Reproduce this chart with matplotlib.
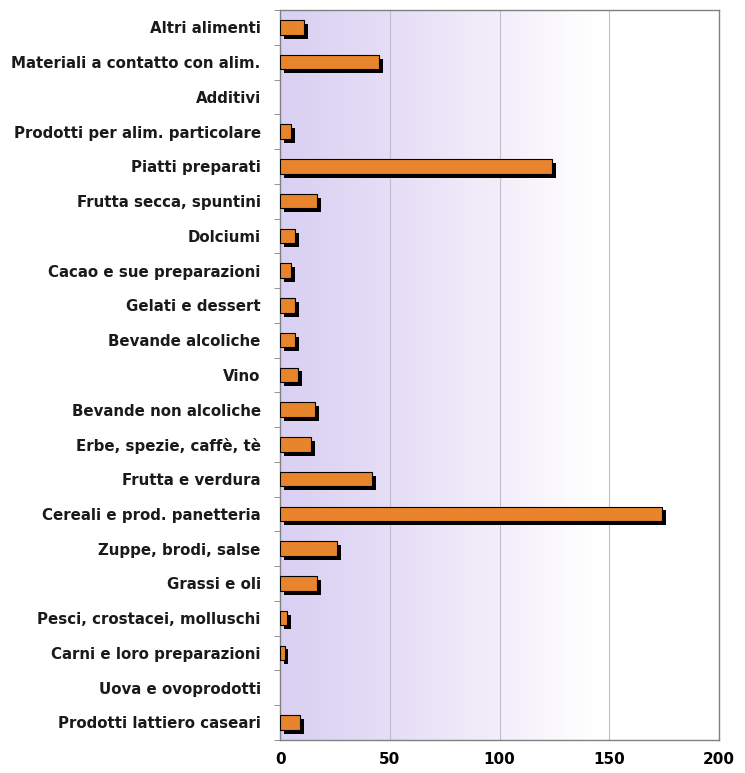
import numpy as np
import matplotlib.pyplot as plt
import matplotlib.patheffects as pe
from matplotlib.colors import LinearSegmentedColormap

# categorie dall'alto verso il basso
categorie = [
    "Altri alimenti",
    "Materiali a contatto con alim.",
    "Additivi",
    "Prodotti per alim. particolare",
    "Piatti preparati",
    "Frutta secca, spuntini",
    "Dolciumi",
    "Cacao e sue preparazioni",
    "Gelati e dessert",
    "Bevande alcoliche",
    "Vino",
    "Bevande non alcoliche",
    "Erbe, spezie, caffè, tè",
    "Frutta e verdura",
    "Cereali e prod. panetteria",
    "Zuppe, brodi, salse",
    "Grassi e oli",
    "Pesci, crostacei, molluschi",
    "Carni e loro preparazioni",
    "Uova e ovoprodotti",
    "Prodotti lattiero caseari",
]
valori = [11, 45, 0, 5, 124, 17, 7, 5, 7, 7, 8, 16, 14, 42, 174, 26, 17, 3, 2, 0, 9]
x_ticks = [0, 50, 100, 150, 200]

plt.rcParams['font.family'] = ['DejaVu Sans']

fig = plt.figure(figsize=(7.45, 7.73), dpi=100)
ax = fig.add_axes([0.376, 0.043, 0.589, 0.944])

n = len(categorie)
y = np.arange(n)

# sfondo sfumato lilla -> bianco
cmap = LinearSegmentedColormap.from_list(
    "sf", [(0, "#d9d0f3"), (0.25, "#e6ddf6"), (0.5, "#f3eefa"), (0.72, "#ffffff"), (1, "#ffffff")])
grad = np.linspace(0, 1, 256).reshape(1, -1)
ax.imshow(grad, extent=[0, 200, n - 0.5, -0.5], aspect='auto', cmap=cmap,
          zorder=0, interpolation='bicubic')

for xv in x_ticks[1:-1]:
    ax.axvline(xv, color="#c4bccc", lw=0.8, zorder=1)

# niente barra per i valori nulli
v_plot = [v if v > 0 else np.nan for v in valori]
ombra = [pe.SimplePatchShadow(offset=(2.8, -2.8), shadow_rgbFace='black', alpha=1.0), pe.Normal()]
ax.barh(y, v_plot, height=0.42, color="#e8842c", edgecolor="black", linewidth=0.8,
        zorder=3, path_effects=ombra)

ax.set_xlim(0, 200)
ax.set_ylim(n - 0.5, -0.5)
ax.set_xticks(x_ticks)
ax.set_xticklabels([str(v) for v in x_ticks], fontsize=11, fontweight='bold')
ax.tick_params(axis='x', length=0, pad=9)
ax.set_yticks(y)
ax.set_yticklabels(categorie, fontsize=10.8, fontweight='bold', color="#1a1a1a")
ax.tick_params(axis='y', which='major', length=0, pad=14)
ax.set_yticks(np.arange(n + 1) - 0.5, minor=True)
ax.tick_params(axis='y', which='minor', length=4, color="#808080")

for s in ax.spines.values():
    s.set_color("#808080")
    s.set_linewidth(1.0)

fig.savefig("out.png", dpi=100)
